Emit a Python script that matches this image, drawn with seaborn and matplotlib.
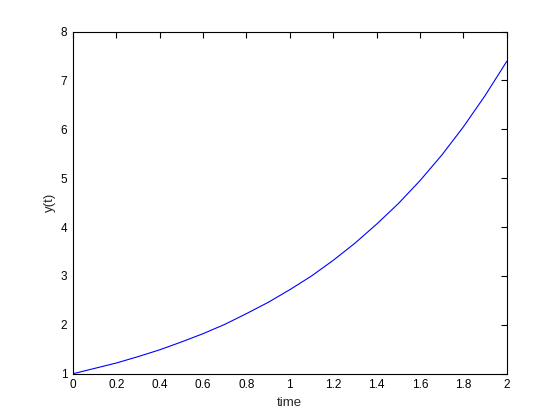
import pandas as pd
import matplotlib
matplotlib.use("Agg")
import matplotlib.pyplot as plt
import seaborn as sns

# values
time = [0.0, 0.1, 0.2, 0.3, 0.4, 0.5, 0.6, 0.7, 0.8, 0.9, 1.0,
        1.1, 1.2, 1.3, 1.4, 1.5, 1.6, 1.7, 1.8, 1.9, 2.0]
y_t = [1.00, 1.11, 1.22, 1.35, 1.49, 1.65, 1.82, 2.01, 2.23, 2.46, 2.72,
       3.00, 3.32, 3.67, 4.06, 4.48, 4.95, 5.47, 6.05, 6.69, 7.39]
x_ticks = [0, 0.2, 0.4, 0.6, 0.8, 1, 1.2, 1.4, 1.6, 1.8, 2]
x_labels = ["0", "0.2", "0.4", "0.6", "0.8", "1", "1.2", "1.4", "1.6", "1.8", "2"]
y_ticks = [1, 2, 3, 4, 5, 6, 7, 8]

df = pd.DataFrame({"time": time, "y(t)": y_t})

sns.set_style("white")
plt.rcParams["font.family"] = ["Liberation Sans", "DejaVu Sans"]

fig = plt.figure(figsize=(5.6, 4.2), dpi=100)
ax = fig.add_axes([0.13, 0.11, 0.775, 0.815])
sns.lineplot(data=df, x="time", y="y(t)", color="blue", linewidth=0.8, ax=ax)

ax.set_xlim(0, 2)
ax.set_ylim(1, 8)
ax.set_xticks(x_ticks)
ax.set_xticklabels(x_labels)
ax.set_yticks(y_ticks)
ax.tick_params(direction="in", length=4, width=0.8, labelsize=8.5,
               top=True, right=True, colors="black", pad=4)
for s in ax.spines.values():
    s.set_color("black")
    s.set_linewidth(0.8)
ax.set_xlabel("time", fontsize=9.5, labelpad=4)
ax.set_ylabel("y(t)", fontsize=9.5, labelpad=3)

fig.savefig("out.png", dpi=100)
